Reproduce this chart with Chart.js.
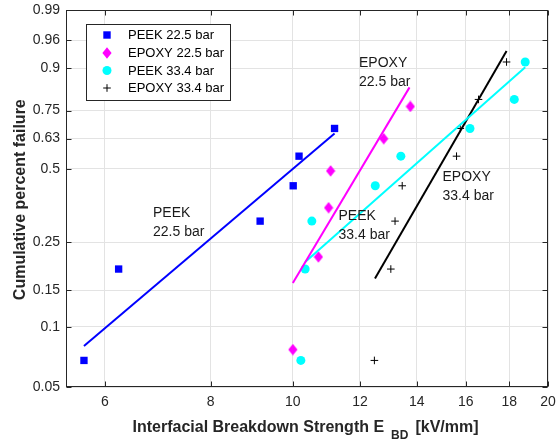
<!DOCTYPE html>
<html><head><meta charset="utf-8">
<script src="https://cdn.jsdelivr.net/npm/chart.js@4.4.0/dist/chart.umd.min.js"></script>
<style>html,body{margin:0;padding:0;background:#fff}</style>
</head><body>
<canvas id="c" width="557" height="442"></canvas>
<script>
// ---- data ----
const xTicks = [6, 8, 10, 12, 14, 16, 18, 20];
const yTicks = [0.05, 0.1, 0.15, 0.25, 0.5, 0.63, 0.75, 0.9, 0.96, 0.99];
const yTickLabels = ['0.05', '0.1', '0.15', '0.25', '0.5', '0.63', '0.75', '0.9', '0.96', '0.99'];

const peek225X = [5.67, 6.23, 9.15, 10.01, 10.17, 11.2];
const peek225F = [0.068, 0.189, 0.31, 0.432, 0.553, 0.674];
const epoxy225X = [10.0, 10.72, 11.02, 11.08, 12.8, 13.76];
const epoxy225F = [0.077, 0.215, 0.353, 0.491, 0.629, 0.767];
const peek334X = [10.22, 10.34, 10.53, 12.51, 13.41, 16.18, 18.25, 18.8];
const peek334F = [0.068, 0.189, 0.31, 0.432, 0.553, 0.674, 0.795, 0.916];
const epoxy334X = [12.48, 13.05, 13.2, 13.46, 15.6, 15.76, 16.56, 17.87];
const epoxy334F = [0.068, 0.189, 0.31, 0.432, 0.553, 0.674, 0.795, 0.916];

const peek225FitX = [5.67, 11.2];
const peek225FitF = [0.0803, 0.6523];
const epoxy225FitX = [10.0, 13.73];
const epoxy225FitF = [0.1626, 0.8395];
const peek334FitX = [10.34, 18.8];
const peek334FitF = [0.204, 0.902];
const epoxy334FitX = [12.5, 17.87];
const epoxy334FitF = [0.1706, 0.9404];

const seriesNames = ['PEEK 22.5 bar', 'EPOXY 22.5 bar', 'PEEK 33.4 bar', 'EPOXY 33.4 bar'];
const annotations = [
  {lines: ['PEEK', '22.5 bar'], px: 153, py: 213},
  {lines: ['EPOXY', '22.5 bar'], px: 359, py: 63},
  {lines: ['PEEK', '33.4 bar'], px: 338.5, py: 216},
  {lines: ['EPOXY', '33.4 bar'], px: 442.5, py: 177}
];

// ---- helpers ----
const FONT = '"Liberation Sans", Arial, Helvetica, sans-serif';
const W = F => Math.log(-Math.log(1 - F));
const pts = (xs, fs) => xs.map((x, i) => ({x: x, y: W(fs[i])}));

function diamondCanvas() {
  const c = document.createElement('canvas');
  c.width = 10; c.height = 12;
  const g = c.getContext('2d');
  g.fillStyle = '#ff00ff';
  g.beginPath();
  g.moveTo(5, 0.3); g.lineTo(9.6, 6); g.lineTo(5, 11.7); g.lineTo(0.4, 6);
  g.closePath(); g.fill();
  return c;
}
const diamond = diamondCanvas();

const colors = ['#0000ff', '#ff00ff', '#00ffff', '#000000'];

const datasets = [
  {data: pts(peek225FitX, peek225FitF), showLine: true, borderColor: colors[0], borderWidth: 2, pointRadius: 0, fill: false},
  {data: pts(epoxy225FitX, epoxy225FitF), showLine: true, borderColor: colors[1], borderWidth: 2, pointRadius: 0, fill: false},
  {data: pts(peek334FitX, peek334FitF), showLine: true, borderColor: colors[2], borderWidth: 2, pointRadius: 0, fill: false},
  {data: pts(epoxy334FitX, epoxy334FitF), showLine: true, borderColor: colors[3], borderWidth: 2, pointRadius: 0, fill: false},
  {label: seriesNames[0], data: pts(peek225X, peek225F), pointStyle: 'rect', pointRadius: 5.2, backgroundColor: colors[0], borderColor: colors[0], borderWidth: 0, showLine: false},
  {label: seriesNames[1], data: pts(epoxy225X, epoxy225F), pointStyle: diamond, pointRadius: 5, backgroundColor: colors[1], borderColor: colors[1], showLine: false},
  {label: seriesNames[2], data: pts(peek334X, peek334F), pointStyle: 'circle', pointRadius: 4.5, backgroundColor: colors[2], borderColor: colors[2], borderWidth: 0, showLine: false},
  {label: seriesNames[3], data: pts(epoxy334X, epoxy334F), pointStyle: 'cross', pointRadius: 3.8, backgroundColor: colors[3], borderColor: colors[3], borderWidth: 1, showLine: false}
];

const decor = {
  id: 'decor',
  afterDraw(chart) {
    const ctx = chart.ctx;
    const a = chart.chartArea;
    const xs = chart.scales.x, ys = chart.scales.y;
    ctx.save();
    // frame
    ctx.strokeStyle = '#262626';
    ctx.lineWidth = 1;
    const L = Math.round(a.left) + 0.5, R = Math.round(a.right) - 0.5;
    const T = Math.round(a.top) + 0.5, B = Math.round(a.bottom) - 0.5;
    ctx.strokeRect(L, T, R - L, B - T);
    // inward ticks
    const tl = 5;
    ctx.beginPath();
    xTicks.forEach(v => {
      const p = Math.round(xs.getPixelForValue(v)) + 0.5;
      ctx.moveTo(p, B); ctx.lineTo(p, B - tl);
      ctx.moveTo(p, T); ctx.lineTo(p, T + tl);
    });
    yTicks.forEach(v => {
      const p = Math.round(ys.getPixelForValue(W(v))) + 0.5;
      ctx.moveTo(L, p); ctx.lineTo(L + tl, p);
      ctx.moveTo(R, p); ctx.lineTo(R - tl, p);
    });
    ctx.stroke();

    // legend
    const lx = 86.5, ly = 24.5, lw = 144, lh = 76;
    ctx.fillStyle = '#ffffff';
    ctx.fillRect(lx, ly, lw, lh);
    ctx.strokeStyle = '#262626';
    ctx.strokeRect(lx, ly, lw, lh);
    const rows = [35, 53, 70.5, 88];
    ctx.font = '13px ' + FONT;
    ctx.textBaseline = 'middle';
    ctx.textAlign = 'left';
    rows.forEach((ry, i) => {
      const mx = 107;
      if (i === 0) { ctx.fillStyle = colors[0]; ctx.fillRect(mx - 3.7, ry - 3.7, 7.4, 7.4); }
      if (i === 1) { ctx.drawImage(diamond, mx - 5, ry - 6); }
      if (i === 2) { ctx.fillStyle = colors[2]; ctx.beginPath(); ctx.arc(mx, ry, 4.5, 0, Math.PI * 2); ctx.fill(); }
      if (i === 3) { ctx.strokeStyle = '#000'; ctx.beginPath(); ctx.moveTo(mx - 3.8, ry); ctx.lineTo(mx + 3.8, ry); ctx.moveTo(mx, ry - 3.8); ctx.lineTo(mx, ry + 3.8); ctx.stroke(); }
      ctx.fillStyle = '#000';
      ctx.fillText(seriesNames[i], 128, ry + 0.5);
    });

    // annotations
    ctx.font = '14px ' + FONT;
    ctx.fillStyle = '#1a1a1a';
    annotations.forEach(an => {
      an.lines.forEach((t, k) => ctx.fillText(t, an.px, an.py + k * 19));
    });

    // y title
    ctx.save();
    ctx.translate(25, 199.7);
    ctx.rotate(-Math.PI / 2);
    ctx.textAlign = 'center';
    ctx.textBaseline = 'alphabetic';
    ctx.font = 'bold 16px ' + FONT;
    ctx.fillStyle = '#262626';
    ctx.fillText('Cumulative percent failure', 0, 0);
    ctx.restore();

    // x title with subscript
    ctx.textBaseline = 'alphabetic';
    ctx.textAlign = 'left';
    ctx.fillStyle = '#262626';
    const p1 = 'Interfacial Breakdown Strength E', sub = 'BD', p2 = '[kV/mm]';
    let sx = 132.5;
    ctx.font = 'bold 16px ' + FONT;
    ctx.fillText(p1, sx, 432);
    sx += ctx.measureText(p1).width + 7;
    ctx.font = 'bold 12px ' + FONT;
    ctx.fillText(sub, sx, 438.5);
    sx += ctx.measureText(sub).width + 7;
    ctx.font = 'bold 16px ' + FONT;
    ctx.fillText(p2, sx, 432);
    ctx.restore();
  }
};

new Chart(document.getElementById('c'), {
  type: 'scatter',
  data: {datasets: datasets},
  options: {
    responsive: false,
    animation: false,
    devicePixelRatio: 1,
    layout: {padding: {left: 0, right: 9, top: 10, bottom: 0}},
    plugins: {legend: {display: false}, tooltip: {enabled: false}},
    scales: {
      x: {
        type: 'logarithmic', min: 5.4, max: 20,
        afterBuildTicks: s => { s.ticks = xTicks.map(v => ({value: v})); },
        afterFit: s => { s.height = 55; s.paddingLeft = 0; s.paddingRight = 0; },
        ticks: {callback: v => String(v), autoSkip: false, maxRotation: 0, minRotation: 0, padding: 7,
                font: {family: FONT, size: 14}, color: '#262626'},
        grid: {color: '#e3e3e3', drawTicks: false, lineWidth: 1},
        border: {display: false}
      },
      y: {
        type: 'linear', min: W(0.05), max: W(0.99),
        afterBuildTicks: s => { s.ticks = yTicks.map(v => ({value: W(v)})); },
        afterFit: s => { s.width = 66; s.paddingTop = 0; s.paddingBottom = 0; },
        ticks: {callback: (v, i) => yTickLabels[i], autoSkip: false, padding: 6,
                font: {family: FONT, size: 14}, color: '#262626'},
        grid: {color: '#e3e3e3', drawTicks: false, lineWidth: 1},
        border: {display: false}
      }
    }
  },
  plugins: [decor]
});
</script>
</body></html>
